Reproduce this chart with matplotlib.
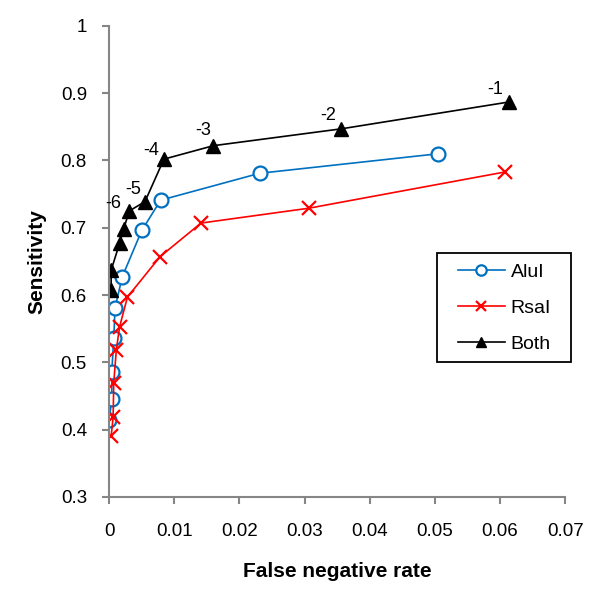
import matplotlib
matplotlib.use("Agg")
import matplotlib.pyplot as plt
from matplotlib.patches import Rectangle

plt.rcParams['font.family'] = ['Liberation Sans', 'DejaVu Sans']

# data
alu_x = [0.0000, 0.0004, 0.0004, 0.0007, 0.0009, 0.0020, 0.0050, 0.0079, 0.0231, 0.0505]
alu_y = [0.414, 0.445, 0.486, 0.536, 0.581, 0.627, 0.696, 0.741, 0.781, 0.810]

rsa_x = [0.0003, 0.0006, 0.0007, 0.0011, 0.0016, 0.0028, 0.0078, 0.0141, 0.0306, 0.0608]
rsa_y = [0.390, 0.418, 0.470, 0.519, 0.553, 0.597, 0.657, 0.707, 0.729, 0.783]

both_x = [0.0003, 0.0003, 0.0016, 0.0022, 0.0031, 0.0055, 0.0084, 0.0160, 0.0356, 0.0614]
both_y = [0.607, 0.637, 0.677, 0.698, 0.725, 0.739, 0.802, 0.822, 0.847, 0.887]

# labels on the last six "Both" points
pt_labels = ['-6', '-5', '-4', '-3', '-2', '-1']
label_offsets = [(-16, 7), (-12, 12), (-13, 9), (-10, 15), (-13, 13), (-14, 12)]

fig = plt.figure(figsize=(6, 6.03), dpi=100)
ax = fig.add_axes([0.182, 0.176, 0.760, 0.781])

ax.plot(alu_x, alu_y, color='#0070C0', lw=1.2, marker='o', ms=10,
        mfc='white', mec='#0070C0', mew=1.6, label='AluI')
ax.plot(rsa_x, rsa_y, color='red', lw=1.2, marker='x', ms=10,
        mew=1.6, label='RsaI')
ax.plot(both_x, both_y, color='black', lw=1.2, marker='^', ms=10,
        label='Both')

for lab, (dx, dy), x, y in zip(pt_labels, label_offsets, both_x[4:], both_y[4:]):
    ax.annotate(lab, (x, y), xytext=(dx, dy), textcoords='offset pixels',
                ha='center', va='center', fontsize=13)

ax.set_xlim(0, 0.07)
ax.set_ylim(0.3, 1.0)
ax.set_xticks([0, 0.01, 0.02, 0.03, 0.04, 0.05, 0.06, 0.07])
ax.set_xticklabels(['0', '0.01', '0.02', '0.03', '0.04', '0.05', '0.06', '0.07'])
ax.set_yticks([0.3, 0.4, 0.5, 0.6, 0.7, 0.8, 0.9, 1.0])
ax.set_yticklabels(['0.3', '0.4', '0.5', '0.6', '0.7', '0.8', '0.9', '1'])

for s in ['top', 'right']:
    ax.spines[s].set_visible(False)
for s in ['left', 'bottom']:
    ax.spines[s].set_color('#868686')
    ax.spines[s].set_linewidth(1.5)
ax.tick_params(colors='#868686', labelcolor='black', labelsize=13.5,
               length=5, width=1.5, direction='out')
ax.tick_params(axis='x', pad=14)
ax.tick_params(axis='y', pad=11)

ax.set_xlabel('False negative rate', fontsize=15, fontweight='bold', labelpad=16)
ax.set_ylabel('Sensitivity', fontsize=15, fontweight='bold', labelpad=10)

# legend box drawn by hand so the side padding can be wider than the top
ax.add_patch(Rectangle((0.718, 0.287), 0.294, 0.231, transform=ax.transAxes,
                       fill=True, facecolor='white', edgecolor='black',
                       lw=1.3, clip_on=False, zorder=4))
leg = ax.legend(loc='center left', bbox_to_anchor=(0.764, 0.401), fontsize=14,
                frameon=False, borderpad=0, labelspacing=0.93, handlelength=2.42,
                handletextpad=0.3, borderaxespad=0, markerscale=0.75)
leg.set_zorder(5)

fig.savefig('out.png', dpi=100)
